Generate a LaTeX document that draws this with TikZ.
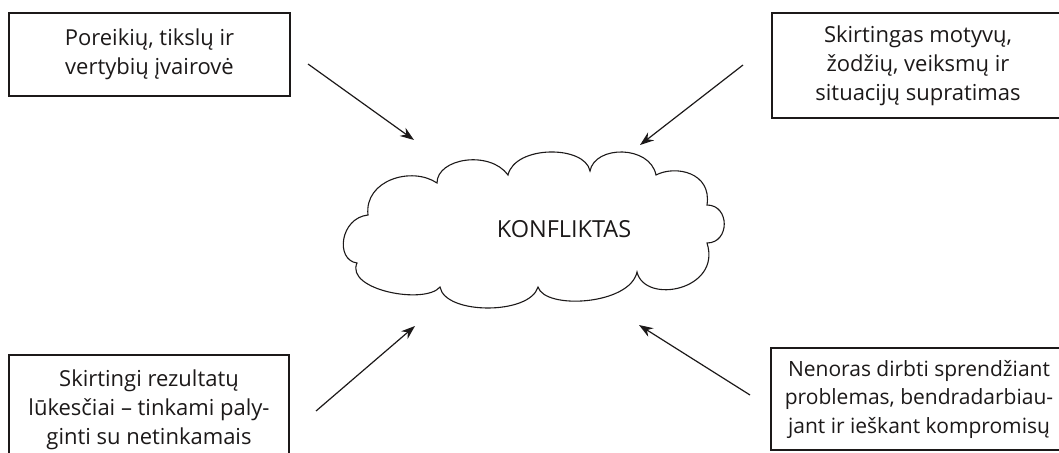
\documentclass[tikz,border=0pt]{standalone}
\usepackage{fontspec}
\setmainfont{Open Sans}
\usetikzlibrary{arrows.meta}
\newlength{\du}
\setlength{\du}{1pt}
\definecolor{dialinecolor}{rgb}{0.110, 0.098, 0.100}
\tikzset{
  causebox/.style={draw=dialinecolor, line width=1.3\du, fill=white, align=center,
    inner sep=0pt, text=dialinecolor, font=\fontsize{22\du}{29\du}\selectfont},
  pointer/.style={draw=dialinecolor, line width=1.2\du,
    -{Stealth[length=14pt,width=10pt]}},
  cloudline/.style={draw=dialinecolor, line width=1.1\du}
}

\begin{document}
\begin{tikzpicture}
\pgftransformxscale{1.000000}
\pgftransformyscale{-1.000000}
\useasboundingbox (0\du,0\du) rectangle (1059\du,452\du);
\clip (0\du,0\du) rectangle (1059\du,452\du);
% boxes
\node[causebox, minimum width=281\du, minimum height=83\du] (needs) at (149.5\du,54.5\du){Poreikių, tikslų ir\\vertybių įvairovė};
\node[causebox, minimum width=292\du, minimum height=105\du] (sense) at (918\du,65.5\du){Skirtingas motyvų,\\žodžių, veiksmų ir\\situacijų supratimas};
\node[causebox, minimum width=280\du, minimum height=110\du] (hopes) at (149\du,410\du){Skirtingi rezultatų\\lūkesčiai – tinkami paly-\\ginti su netinkamais};
\node[causebox, font=\fontsize{21\du}{28.5\du}\selectfont, minimum width=296\du, minimum height=102\du] (refuse) at (919\du,399\du){Nenoras dirbti sprendžiant\\problemas, bendradarbiau-\\jant ir ieškant kompromisų};
% cloud
\draw[cloudline] (368\du,215\du)
  .. controls (364\du,180\du) and (412\du,166\du) .. (437\du,183\du)
  .. controls (437\du,158\du) and (490\du,150\du) .. (508\du,175\du)
  .. controls (515\du,145\du) and (585\du,145\du) .. (590\du,171\du)
  .. controls (595\du,145\du) and (650\du,145\du) .. (656\du,175\du)
  .. controls (675\du,165\du) and (712\du,172\du) .. (707\du,205\du)
  .. controls (730\du,205\du) and (730\du,243\du) .. (707\du,243\du)
  .. controls (722\du,290\du) and (645\du,305\du) .. (637\du,272\du)
  .. controls (630\du,305\du) and (545\du,310\du) .. (538\du,287\du)
  .. controls (530\du,315\du) and (445\du,315\du) .. (440\du,287\du)
  .. controls (425\du,305\du) and (345\du,290\du) .. (357\du,263\du)
  .. controls (335\du,260\du) and (340\du,218\du) .. (368\du,215\du) -- cycle;
\node[anchor=base, text=dialinecolor, font=\fontsize{23.5\du}{29\du}\selectfont] (conflict) at (564\du,237\du){KONFLIKTAS};
% arrows
\coordinate (needs-tail) at (308\du,64\du);
\coordinate (needs-tip) at (414\du,140\du);
\coordinate (sense-tail) at (743\du,65\du);
\coordinate (sense-tip) at (640\du,145\du);
\coordinate (hopes-tail) at (316\du,411\du);
\coordinate (hopes-tip) at (415\du,326\du);
\coordinate (refuse-tail) at (750\du,395\du);
\coordinate (refuse-tip) at (639\du,325\du);
\draw[pointer] (needs-tail)--(needs-tip);
\draw[pointer] (sense-tail)--(sense-tip);
\draw[pointer] (hopes-tail)--(hopes-tip);
\draw[pointer] (refuse-tail)--(refuse-tip);
\end{tikzpicture}
\end{document}
